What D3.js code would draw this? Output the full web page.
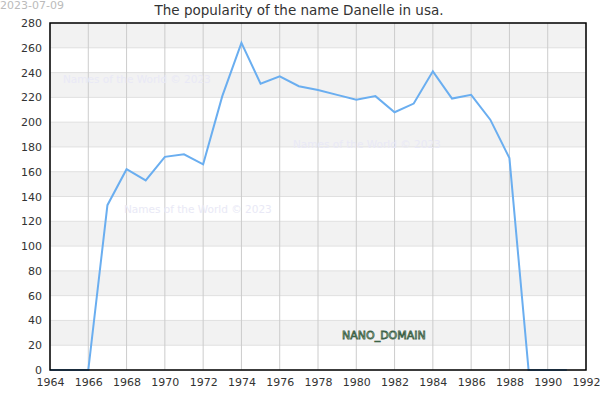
<!DOCTYPE html>
<html>
<head>
<meta charset="utf-8">
<script src="https://cdn.jsdelivr.net/npm/d3@7"></script>
<style>
  body { margin: 0; background: #fff; }
  text { font-family: "DejaVu Sans", sans-serif; }
</style>
</head>
<body>
<div id="chart"></div>
<script>
// data
const years = [1964, 1965, 1966, 1967, 1968, 1969, 1970, 1971, 1972, 1973, 1974, 1975, 1976, 1977,
               1978, 1979, 1980, 1981, 1982, 1983, 1984, 1985, 1986, 1987, 1988, 1989, 1990, 1991];
const counts = [0, 0, 0, 133, 162, 153, 172, 174, 166, 221, 264, 231, 237, 229,
                226, 222, 218, 221, 208, 215, 241, 219, 222, 202, 171, 0, 0, 0];
const yTicks = [0, 20, 40, 60, 80, 100, 120, 140, 160, 180, 200, 220, 240, 260, 280];
const xTicks = [1964, 1966, 1968, 1970, 1972, 1974, 1976, 1978, 1980, 1982, 1984, 1986, 1988, 1990, 1992];
const titleText = 'The popularity of the name Danelle in usa.';
const dateText = '2023-07-09';
const watermark = 'Names of the World © 2023';

const margin = {top: 23, right: 14, bottom: 30, left: 50};
const width = 600, height = 400;
const w = width - margin.left - margin.right;
const h = height - margin.top - margin.bottom;

const svg = d3.select('#chart').append('svg')
    .attr('width', width)
    .attr('height', height);

const g = svg.append('g')
    .attr('transform', `translate(${margin.left},${margin.top})`);

const x = d3.scaleLinear().domain([1964, 1992]).range([0, w]);
const y = d3.scaleLinear().domain([0, 280]).range([h, 0]);

// alternating bands
g.selectAll('.band')
    .data(yTicks.slice(0, -1))
    .enter().append('rect')
    .attr('class', 'band')
    .attr('x', 0)
    .attr('width', w)
    .attr('y', d => y(d + 20))
    .attr('height', d => y(d) - y(d + 20))
    .attr('fill', (d, i) => i % 2 ? '#f2f2f2' : '#fff');

// horizontal grid
g.selectAll('.hgrid')
    .data(yTicks)
    .enter().append('line')
    .attr('x1', 0).attr('x2', w)
    .attr('y1', d => y(d)).attr('y2', d => y(d))
    .attr('stroke', '#e0e0e0');

// vertical grid
g.selectAll('.vgrid')
    .data(xTicks)
    .enter().append('line')
    .attr('x1', d => x(d)).attr('x2', d => x(d))
    .attr('y1', 0).attr('y2', h)
    .attr('stroke', '#ccc');

// watermarks
const wm = [[13, 60], [243, 125], [74, 190]];
g.selectAll('.wm')
    .data(wm)
    .enter().append('text')
    .attr('x', d => d[0])
    .attr('y', d => d[1])
    .attr('font-size', 10.5)
    .attr('fill', '#e9e9f6')
    .text(watermark);

// line
const line = d3.line()
    .x((d, i) => x(years[i]))
    .y(d => y(d));

g.append('path')
    .datum(counts)
    .attr('d', line)
    .attr('fill', 'none')
    .attr('stroke', '#6aaef0')
    .attr('stroke-width', 2);

// border
g.append('rect')
    .attr('width', w).attr('height', h)
    .attr('fill', 'none')
    .attr('stroke', '#000')
    .attr('stroke-width', 1.5);

// axes
const xAxis = g.append('g')
    .attr('transform', `translate(0,${h})`)
    .call(d3.axisBottom(x).tickValues(xTicks).tickFormat(d3.format('d')).tickSize(0).tickPadding(8));
const yAxis = g.append('g')
    .call(d3.axisLeft(y).tickValues(yTicks).tickSize(0).tickPadding(8));
[xAxis, yAxis].forEach(a => {
    a.select('.domain').remove();
    a.selectAll('text')
        .attr('font-family', '"DejaVu Sans", sans-serif')
        .attr('font-size', 11)
        .attr('fill', '#333');
});

// title and date
svg.append('text')
    .attr('x', 299).attr('y', 15)
    .attr('text-anchor', 'middle')
    .attr('font-size', 13.5)
    .attr('fill', '#333')
    .text(titleText);

svg.append('text')
    .attr('x', 0).attr('y', 9)
    .attr('font-size', 11)
    .attr('fill', '#bbb')
    .text(dateText);

// domain label
svg.append('text')
    .attr('x', 342).attr('y', 339)
    .attr('font-size', 11)
    .attr('fill', '#dde8dd')
    .attr('stroke', '#3d6347')
    .attr('stroke-width', 0.8)
    .text('NANO_DOMAIN');
</script>
</body>
</html>
